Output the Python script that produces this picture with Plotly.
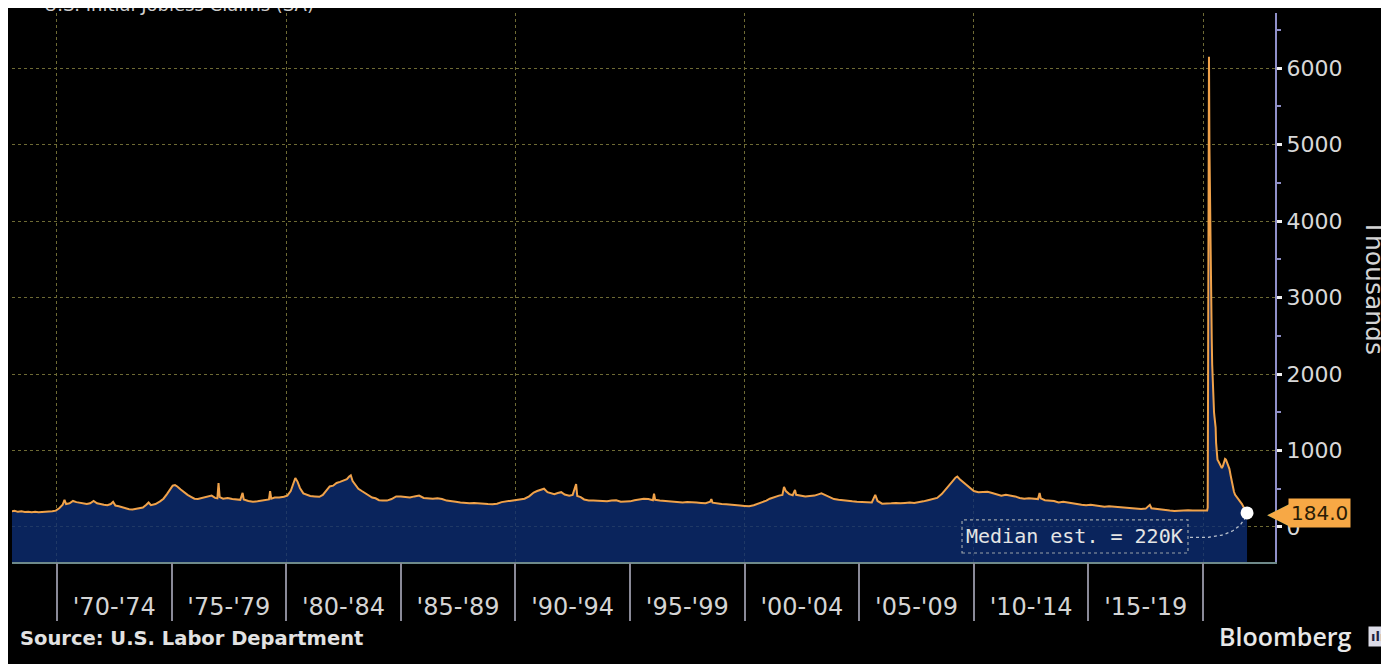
import numpy as np
import plotly.graph_objects as go

# ---------------- data (weekly initial jobless claims, thousands) ----------------
years_a = [1968.00, 1968.15, 1968.30, 1968.45, 1968.60, 1968.75, 1968.90, 1969.05, 1969.20, 1969.35,
           1969.50, 1969.65, 1969.80, 1969.95, 1970.10, 1970.25, 1970.33, 1970.40, 1970.55, 1970.70,
           1970.85, 1971.00, 1971.15, 1971.30, 1971.45, 1971.60, 1971.75, 1971.90, 1972.05, 1972.20,
           1972.35, 1972.45, 1972.55, 1972.70, 1972.85, 1973.00, 1973.15, 1973.30, 1973.45, 1973.60,
           1973.75, 1973.90, 1974.00, 1974.10, 1974.30, 1974.50, 1974.65, 1974.80, 1974.95, 1975.05,
           1975.15, 1975.25, 1975.40, 1975.55, 1975.70, 1975.85, 1976.00, 1976.15, 1976.30, 1976.45,
           1976.60, 1976.75, 1976.90, 1977.00, 1977.05, 1977.10, 1977.25, 1977.45, 1977.65, 1977.85,
           1978.00, 1978.10, 1978.15, 1978.35, 1978.55, 1978.75, 1978.95, 1979.10, 1979.25, 1979.30,
           1979.35, 1979.50, 1979.70, 1979.90]
claims_a = [205, 212, 198, 204, 196, 200, 193, 199, 192, 198,
            195, 201, 205, 214, 245, 290, 355, 300, 310, 340,
            325, 318, 305, 300, 310, 340, 310, 295, 290, 285,
            300, 330, 280, 270, 255, 240, 232, 228, 240, 245,
            255, 290, 320, 285, 300, 335, 370, 430, 500, 540,
            548, 530, 490, 450, 420, 395, 370, 365, 375, 390,
            395, 410, 380, 375, 575, 390, 370, 380, 365, 360,
            355, 445, 360, 340, 330, 335, 345, 350, 360, 470,
            370, 385, 385, 395]

years_b = [1980.05, 1980.20, 1980.30, 1980.40, 1980.50, 1980.60, 1980.75, 1980.90, 1981.05, 1981.25,
           1981.45, 1981.60, 1981.75, 1981.90, 1982.05, 1982.20, 1982.35, 1982.50, 1982.65, 1982.75,
           1982.82, 1982.90, 1983.00, 1983.15, 1983.30, 1983.45, 1983.60, 1983.75, 1983.90, 1984.05,
           1984.20, 1984.40, 1984.60, 1984.80, 1985.00, 1985.20, 1985.40, 1985.60, 1985.80, 1986.00,
           1986.20, 1986.40, 1986.60, 1986.80, 1987.00, 1987.20, 1987.40, 1987.60, 1987.80, 1988.00,
           1988.20, 1988.40, 1988.60, 1988.80, 1989.00, 1989.20, 1989.40, 1989.60, 1989.80]
claims_b = [410, 470, 560, 640, 590, 510, 440, 420, 405, 400,
            395, 420, 480, 530, 540, 575, 590, 610, 625, 660,
            675, 600, 560, 500, 470, 445, 420, 385, 375, 350,
            345, 345, 365, 400, 400, 395, 385, 400, 410, 380,
            375, 370, 375, 365, 345, 340, 330, 320, 315, 310,
            315, 308, 305, 300, 298, 305, 325, 335, 345]

years_c = [1990.00, 1990.20, 1990.40, 1990.60, 1990.80, 1990.95, 1991.10, 1991.25, 1991.40, 1991.55,
           1991.70, 1991.85, 1992.00, 1992.15, 1992.35, 1992.50, 1992.65, 1992.70, 1992.85, 1993.00,
           1993.20, 1993.40, 1993.60, 1993.80, 1994.00, 1994.20, 1994.40, 1994.60, 1994.80, 1995.00,
           1995.20, 1995.40, 1995.60, 1995.80, 1996.00, 1996.05, 1996.10, 1996.30, 1996.50, 1996.70,
           1996.90, 1997.10, 1997.30, 1997.50, 1997.70, 1997.90, 1998.10, 1998.30, 1998.50, 1998.55,
           1998.60, 1998.80, 1999.00, 1999.20, 1999.40, 1999.60, 1999.80]
claims_c = [350, 355, 370, 400, 450, 470, 490, 500, 455, 440,
            430, 445, 455, 425, 410, 420, 560, 405, 390, 360,
            345, 345, 340, 340, 335, 345, 350, 330, 330, 335,
            350, 360, 370, 365, 350, 435, 355, 345, 340, 335,
            330, 325, 320, 325, 318, 320, 315, 310, 330, 365,
            318, 305, 300, 298, 295, 290, 280]

years_d = [2000.00, 2000.20, 2000.40, 2000.60, 2000.80, 2000.95, 2001.10, 2001.30, 2001.50, 2001.65,
           2001.72, 2001.80, 2001.95, 2002.10, 2002.20, 2002.25, 2002.45, 2002.65, 2002.85, 2003.05,
           2003.25, 2003.35, 2003.50, 2003.70, 2003.90, 2004.10, 2004.30, 2004.50, 2004.70, 2004.90,
           2005.10, 2005.30, 2005.55, 2005.70, 2005.80, 2006.00, 2006.20, 2006.40, 2006.60, 2006.80,
           2007.00, 2007.20, 2007.40, 2007.60, 2007.80, 2008.00, 2008.20, 2008.40, 2008.60, 2008.75,
           2008.90, 2009.05, 2009.20, 2009.28, 2009.40, 2009.55, 2009.70, 2009.85]
claims_d = [275, 270, 285, 305, 330, 345, 370, 395, 410, 420,
            525, 470, 430, 415, 485, 420, 410, 400, 405, 410,
            430, 440, 420, 390, 365, 355, 345, 340, 335, 330,
            325, 320, 320, 420, 340, 305, 305, 310, 315, 310,
            315, 320, 315, 320, 335, 350, 370, 380, 430, 480,
            540, 590, 645, 660, 620, 580, 540, 510]

years_e = [2010.00, 2010.20, 2010.40, 2010.60, 2010.80, 2011.00, 2011.20, 2011.40, 2011.60, 2011.80,
           2012.00, 2012.20, 2012.40, 2012.60, 2012.80, 2012.87, 2012.92, 2013.10, 2013.30, 2013.50,
           2013.70, 2013.90, 2014.10, 2014.30, 2014.50, 2014.70, 2014.90, 2015.10, 2015.30, 2015.50,
           2015.70, 2015.90, 2016.10, 2016.30, 2016.50, 2016.70, 2016.90, 2017.10, 2017.30, 2017.50,
           2017.68, 2017.75, 2017.95, 2018.15, 2018.35, 2018.55, 2018.75, 2018.95, 2019.15, 2019.35,
           2019.55, 2019.75, 2019.95, 2020.10, 2020.18]
claims_e = [470, 455, 455, 460, 445, 425, 410, 420, 410, 400,
            380, 370, 375, 370, 365, 445, 375, 350, 345, 340,
            320, 330, 320, 305, 300, 290, 285, 290, 280, 270,
            265, 270, 265, 260, 255, 255, 245, 240, 235, 240,
            290, 245, 235, 225, 220, 215, 210, 215, 215, 220,
            215, 215, 210, 210, 215]

years_f = [2020.205, 2020.22, 2020.24, 2020.26, 2020.28, 2020.30, 2020.32, 2020.34, 2020.36, 2020.38,
           2020.40, 2020.42, 2020.44, 2020.46, 2020.48, 2020.50, 2020.52, 2020.55, 2020.57, 2020.60,
           2020.63, 2020.67, 2020.72, 2020.77, 2020.82, 2020.87, 2020.92, 2020.96, 2021.00, 2021.05,
           2021.10, 2021.15, 2021.20, 2021.25, 2021.30, 2021.35, 2021.40, 2021.45, 2021.50, 2021.55,
           2021.60, 2021.65, 2021.70, 2021.75, 2021.80, 2021.85, 2021.92]
claims_f = [256, 2920, 6137, 6149, 4970, 4280, 3870, 3180, 2840, 2450,
            2120, 1900, 1620, 1540, 1500, 1440, 1400, 1300, 1100, 930,
            880, 860, 830, 790, 770, 800, 850, 890, 880, 845,
            800, 760, 680, 600, 530, 460, 420, 400, 380, 370,
            350, 330, 300, 270, 250, 220, 184]

period_labels = ["'70-'74", "'75-'79", "'80-'84", "'85-'89", "'90-'94",
                 "'95-'99", "'00-'04", "'05-'09", "'10-'14", "'15-'19"]
period_starts = [1970, 1975, 1980, 1985, 1990, 1995, 2000, 2005, 2010, 2015]
boundary_ticks = [1970, 1975, 1980, 1985, 1990, 1995, 2000, 2005, 2010, 2015, 2020]
decade_grid = [1970, 1980, 1990, 2000, 2010, 2020]
y_ticks = [0, 1000, 2000, 3000, 4000, 5000, 6000]

median_est_label = "Median est. = 220K"
latest_label = "184.0"

# ---------------- layout constants ----------------
X_RANGE = [1968.04, 2023.14]
Y_RANGE = [-458, 6721]
BG = "#000000"
ORANGE = "#f0a24a"
TAG = "#f7a845"
NAVY_FILL = "rgba(12,45,115,0.80)"
GRID = "#6e6a34"

years = years_a + years_b + years_c + years_d + years_e + years_f
claims = claims_a + claims_b + claims_c + claims_d + claims_e + claims_f
mid_points = [s + 2.5 for s in period_starts]

fig = go.Figure()

# baseline for the fill (bottom of the value axis)
fig.add_trace(go.Scatter(x=years, y=[Y_RANGE[0]] * len(years), mode="lines",
                         line=dict(width=0, color=BG), hoverinfo="skip", showlegend=False))
fig.add_trace(go.Scatter(x=years, y=claims, mode="lines", fill="tonexty",
                         fillcolor=NAVY_FILL, line=dict(color=ORANGE, width=2),
                         showlegend=False, name="Claims"))

# dotted connector from the median box to the latest point
x_last, y_last = years[-1], claims[-1]
box_anchor = (X_RANGE[0] + (X_RANGE[1] - X_RANGE[0]) * 0.9327, -135)
ctrl = (x_last - 0.35, box_anchor[1] - 40)
t = np.linspace(0, 1, 25)
cx = (1 - t) ** 2 * box_anchor[0] + 2 * (1 - t) * t * ctrl[0] + t ** 2 * x_last
cy = (1 - t) ** 2 * box_anchor[1] + 2 * (1 - t) * t * ctrl[1] + t ** 2 * y_last
fig.add_trace(go.Scatter(x=cx, y=cy, mode="lines", line=dict(color="#b8c0cc", width=1.3, dash="dot"),
                         hoverinfo="skip", showlegend=False))

# latest point marker
fig.add_trace(go.Scatter(x=[x_last], y=[y_last], mode="markers",
                         marker=dict(color="white", size=13), showlegend=False, hoverinfo="skip"))

# dummy traces for the overlay axes
fig.add_trace(go.Scatter(x=[], y=[], xaxis="x2", showlegend=False, hoverinfo="skip"))
fig.add_trace(go.Scatter(x=[], y=[], xaxis="x3", showlegend=False, hoverinfo="skip"))

font_main = "DejaVu Sans"

fig.update_layout(
    width=1389, height=664,
    paper_bgcolor=BG, plot_bgcolor=BG,
    margin=dict(l=4, r=122, t=5, b=110),
    showlegend=False,
    xaxis=dict(range=X_RANGE, tickmode="array", tickvals=mid_points, ticktext=period_labels,
               ticks="outside", ticklen=22, tickcolor="rgba(0,0,0,0)",
               tickfont=dict(family=font_main, size=24, color="#d4d4d4"),
               showline=True, linecolor="#6f8a8a", linewidth=2,
               showgrid=False, zeroline=False, fixedrange=True),
    xaxis2=dict(range=X_RANGE, overlaying="x", anchor="y", side="bottom",
                tickmode="array", tickvals=boundary_ticks, ticks="outside", ticklen=58,
                tickwidth=2, tickcolor="#8a8a98", showticklabels=False,
                showline=False, showgrid=False, zeroline=False),
    xaxis3=dict(range=X_RANGE, overlaying="x", anchor="y", side="bottom",
                tickmode="array", tickvals=decade_grid, ticks="", showticklabels=False,
                showline=False, showgrid=True, gridcolor=GRID, griddash="dot", gridwidth=1,
                zeroline=False),
    yaxis=dict(range=Y_RANGE, side="right", tickmode="array", tickvals=y_ticks,
               tickformat="d", ticks="outside", ticklen=5, tickwidth=3, tickcolor="#f0f0f0",
               tickfont=dict(family=font_main, size=22, color="#d8d8d8"),
               minor=dict(tickmode="array", tickvals=[v + 500 for v in y_ticks],
                          ticks="outside", ticklen=4, tickwidth=1.5, tickcolor="#8f8fc8"),
               showline=True, linecolor="#8f8fc8", linewidth=2,
               showgrid=True, gridcolor=GRID, griddash="dot", gridwidth=1,
               zeroline=False, fixedrange=True),
    shapes=[dict(type="rect", xref="paper", yref="paper", x0=0.7522, x1=0.9311, y0=0.0164, y1=0.0766,
                 line=dict(color="#9aa2a8", width=1.2, dash="dot"), layer="above")],
    annotations=[
        dict(text=median_est_label, xref="paper", yref="paper", x=0.8416, y=0.0465,
             showarrow=False, font=dict(family="DejaVu Sans Mono", size=20, color="#e4e4e4"),
             xanchor="center", yanchor="middle"),
        dict(text=latest_label, xref="paper", yref="y", x=1.0103, y=y_last, xanchor="left",
             yanchor="middle", showarrow=False, bgcolor=TAG, borderpad=2,
             font=dict(family=font_main, size=20, color="#2a1c06")),
        dict(text="◀", xref="paper", yref="y", x=1.0125, y=y_last, xanchor="right",
             yanchor="middle", showarrow=False, borderpad=0,
             font=dict(family=font_main, size=30, color=TAG)),
        dict(text="Thousands", xref="paper", yref="paper", x=1.079, y=0.502, textangle=90,
             showarrow=False, font=dict(family=font_main, size=25, color="#d4d4d4"),
             xanchor="center", yanchor="middle"),
        dict(text="<b>Source: U.S. Labor Department</b>", xref="paper", yref="paper",
             x=0.0048, y=-0.1387, xanchor="left", yanchor="middle", showarrow=False,
             font=dict(family=font_main, size=19.5, color="#e2e2e2")),
        dict(text="Bloomberg", xref="paper", yref="paper", x=1.0626, y=-0.135,
             xanchor="right", yanchor="middle", showarrow=False,
             font=dict(family="Open Sans", size=25, color="#e8e8e8", weight=600)),
        dict(text="<b>ılı</b>", xref="paper", yref="paper", x=1.0815, y=-0.135,
             xanchor="center", yanchor="middle", showarrow=False, bgcolor="#dcdce8",
             borderpad=2, font=dict(family=font_main, size=13, color="#202040")),
        dict(text="U.S. Initial Jobless Claims (SA)", xref="paper", yref="paper",
             x=0.024, y=1.016, xanchor="left", yanchor="middle", showarrow=False,
             font=dict(family=font_main, size=18, color="#cfcfcf")),
    ],
)

fig.write_html("out.html")
